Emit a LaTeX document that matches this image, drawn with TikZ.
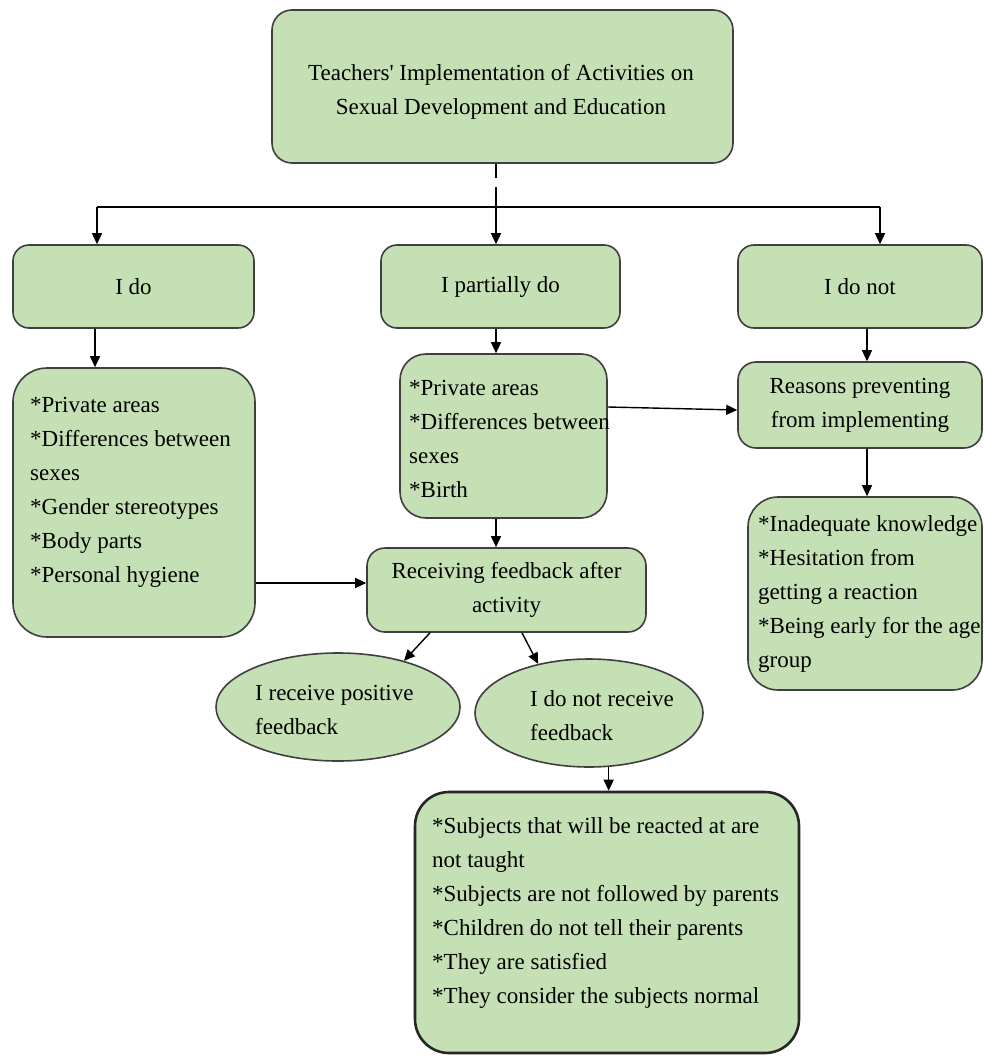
\documentclass[tikz,border=0pt]{standalone}
\usepackage{fontspec}
\setmainfont{Liberation Serif}
\usetikzlibrary{shapes.geometric,arrows.meta}
\definecolor{boxfill}{HTML}{C5E0B4}
\definecolor{boxline}{HTML}{3F3F3F}
\begin{document}
\begin{tikzpicture}[x=1pt,y=-1pt,
  card/.style={draw=boxline,fill=boxfill,line width=1.6pt,rounded corners=#1,inner sep=0,
    font=\fontsize{23}{34}\selectfont,align=center},
  card/.default=16pt,
  oval/.style={ellipse,draw=boxline,fill=boxfill,line width=1.6pt,inner sep=0},
  txt/.style={font=\fontsize{23}{34}\selectfont,align=left,anchor=north west,inner sep=0},
  conn/.style={line width=1.4pt,draw=black},
  arr/.style={conn,-{Triangle[length=11pt,width=10pt]}}]
\useasboundingbox (0,0) rectangle (983,1057);

% boxes
\node[card=20pt,minimum width=461pt,minimum height=153pt] (top) at (502.5,86.5) {};
\node[align=center,inner sep=0,font=\fontsize{23}{34}\selectfont] (topText) at (501,92)
  {Teachers\textquotesingle\ Implementation of Activities on\\Sexual Development and Education};

\node[card,minimum width=241pt,minimum height=83pt] (idoBox) at (133.5,286.5) {I do};
\node[card,minimum width=239pt,minimum height=83pt] (partBox) at (500.5,286.5) {\raisebox{4pt}{I partially do}};
\node[card,minimum width=244pt,minimum height=83pt] (notBox) at (860,286.5) {I do not};

\node[card=34pt,minimum width=242pt,minimum height=269pt] (idoList) at (134,502.5) {};
\node[txt] (idoText) at (30,397.5) {*Private areas\\*Differences between\\sexes\\*Gender stereotypes\\*Body parts\\*Personal hygiene};

\node[card=26pt,minimum width=207pt,minimum height=164pt] (partList) at (503.5,436) {};
\node[txt] (partText) at (409,380.5) {*Private areas\\*Differences between\\sexes\\*Birth};

\node[card=18pt,minimum width=244pt,minimum height=86pt] (reasonBox) at (860,405)
  {Reasons preventing\\from implementing};

\node[card=30pt,minimum width=234pt,minimum height=193pt] (inadBox) at (865,593.5) {};
\node[txt] (inadText) at (758,515.5) {*Inadequate knowledge\\*Hesitation from\\getting a reaction\\*Being early for the age\\group};

\node[card=18pt,minimum width=279pt,minimum height=84pt] (feedBox) at (506.5,590)
  {Receiving feedback after\\activity};

\node[oval,minimum width=244pt,minimum height=108pt] (posEll) at (338,707) {};
\node[txt] (posText) at (255,685.5) {I receive positive\\feedback};

\node[oval,minimum width=228pt,minimum height=108pt] (noEll) at (589,713) {};
\node[txt] (noText) at (530,690.5) {I do not receive\\feedback};

\node[card=34pt,minimum width=384pt,minimum height=261pt,line width=2.6pt,draw=black!85] (botBox) at (607,922.5) {};
\node[txt] (botText) at (432,817.5) {*Subjects that will be reacted at are\\not taught\\*Subjects are not followed by parents\\*Children do not tell their parents\\*They are satisfied\\*They consider the subjects normal};

% connectors
\coordinate (split) at (496,207);
\coordinate (gapEnd) at (496,187);
\coordinate (hl) at (97,207);
\coordinate (hr) at (880,207);
\coordinate (fbIn) at ([yshift=7pt]feedBox.west);
\draw[conn] (top.south -| split) -- ++(0,14);
\draw[arr] (gapEnd) -- (split |- partBox.north);
\draw[conn] (hl) -- (hr);
\draw[arr] (hl) -- (hl |- idoBox.north);
\draw[arr] (hr) -- (hr |- notBox.north);

\draw[arr] ([xshift=-38.5pt]idoBox.south) -- ([xshift=-38.5pt]idoBox.south |- idoList.north);
\draw[arr] (split |- partBox.south) -- (split |- partList.north);
\draw[arr] (split |- partList.south) -- (split |- feedBox.north);
\draw[arr] (idoList.east |- fbIn) -- (fbIn);
\draw[arr] ([yshift=29pt]partList.east) -- ([yshift=-5pt]reasonBox.west);
\draw[arr] ([xshift=7pt]notBox.south) -- ([xshift=7pt]notBox.south |- reasonBox.north);
\draw[arr] ([xshift=7pt]reasonBox.south) -- ([xshift=7pt]reasonBox.south |- inadBox.north);
\draw[arr] ([xshift=-76.5pt]feedBox.south) -- (posEll.35);
\draw[arr] ([xshift=15.5pt]feedBox.south) -- (noEll.136);
\draw[arr] (noEll.-70) -- (noEll.-70 |- botBox.north);
\end{tikzpicture}
\end{document}
